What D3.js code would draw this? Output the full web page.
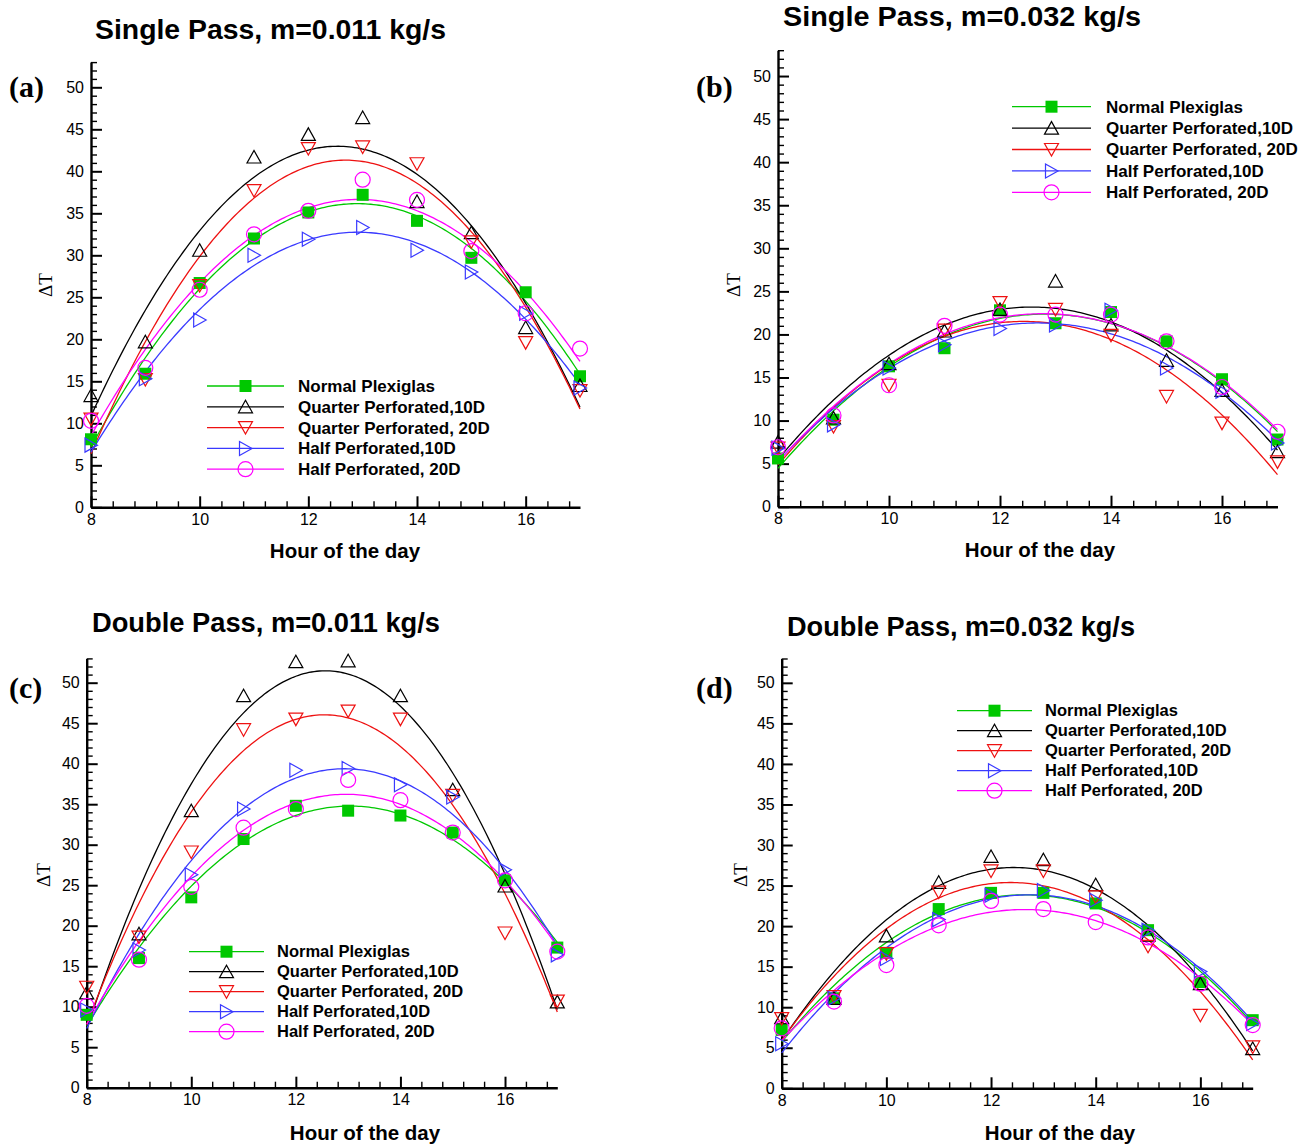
<!DOCTYPE html>
<html>
<head>
<meta charset="utf-8">
<script src="https://cdn.jsdelivr.net/npm/d3@7"></script>
<style>
  html, body { margin: 0; padding: 0; background: #fff; }
  svg { display: block; }
</style>
</head>
<body>
<svg id="chart" width="1314" height="1145"></svg>
<script>
// ---------------- DATA ----------------
const hours = [8, 9, 10, 11, 12, 13, 14, 15, 16, 17];
const seriesNames = ["Normal Plexiglas", "Quarter Perforated,10D", "Quarter Perforated, 20D", "Half Perforated,10D", "Half Perforated, 20D"];
const panelTitles = ["Single Pass, m=0.011 kg/s", "Single Pass, m=0.032 kg/s", "Double Pass, m=0.011 kg/s", "Double Pass, m=0.032 kg/s"];
const panelLetters = ["(a)", "(b)", "(c)", "(d)"];
const yTickValues = [0, 5, 10, 15, 20, 25, 30, 35, 40, 45, 50];
const xTickValues = [8, 10, 12, 14, 16];
const xAxisTitle = "Hour of the day";
const yAxisTitle = "\u0394T";

// (a) Single pass, m = 0.011 kg/s
const aNormal = [8.1, 15.9, 26.7, 32.0, 35.1, 37.2, 34.1, 29.7, 25.6, 15.6];
const aQuarter10 = [13.3, 19.7, 30.6, 41.7, 44.4, 46.4, 36.4, 32.7, 21.4, 14.5];
const aQuarter20 = [10.5, 15.2, 26.4, 37.7, 42.7, 42.9, 40.9, 31.6, 19.6, 13.9];
const aHalf10 = [7.4, 15.3, 22.3, 30.0, 31.9, 33.3, 30.6, 28.0, 23.1, 14.2];
const aHalf20 = [10.3, 16.6, 25.9, 32.5, 35.3, 39.0, 36.6, 30.5, 23.1, 18.9];

// (b) Single pass, m = 0.032 kg/s
const bNormal = [5.6, 10.1, 16.3, 18.4, 22.8, 21.3, 22.6, 19.2, 14.8, 7.8];
const bQuarter10 = [7.5, 10.3, 16.6, 20.4, 22.9, 26.2, 21.1, 17.0, 13.5, 6.4];
const bQuarter20 = [6.8, 9.3, 14.1, 20.5, 23.7, 22.9, 19.9, 12.8, 9.7, 5.2];
const bHalf10 = [6.8, 9.5, 16.1, 18.8, 20.7, 21.1, 22.8, 16.1, 13.4, 7.4];
const bHalf20 = [6.9, 10.6, 14.1, 21.0, 22.3, 22.3, 22.3, 19.2, 13.9, 8.7];

// (c) Double pass, m = 0.011 kg/s
const cNormal = [9.0, 16.0, 23.5, 30.7, 34.8, 34.2, 33.6, 31.5, 25.6, 17.3];
const cQuarter10 = [11.7, 19.0, 34.2, 48.4, 52.6, 52.7, 48.4, 36.8, 24.9, 10.6];
const cQuarter20 = [12.4, 18.6, 29.1, 44.2, 45.5, 46.5, 45.5, 36.1, 19.1, 10.7];
const cHalf10 = [9.6, 17.0, 26.3, 34.4, 39.2, 39.4, 37.4, 35.9, 26.9, 16.4];
const cHalf20 = [10.1, 15.8, 24.8, 32.1, 34.4, 38.0, 35.5, 31.5, 25.6, 16.8];

// (d) Double pass, m = 0.032 kg/s
const dNormal = [7.2, 11.1, 16.7, 22.1, 24.1, 24.1, 22.8, 19.5, 13.1, 8.4];
const dQuarter10 = [8.7, 11.1, 18.8, 25.4, 28.6, 28.2, 25.1, 18.9, 12.9, 4.9];
const dQuarter20 = [8.6, 11.3, 16.6, 24.2, 26.8, 26.8, 23.6, 17.5, 9.0, 5.1];
const dHalf10 = [5.5, 11.1, 16.0, 20.8, 23.8, 24.4, 23.2, 19.5, 14.4, 8.0];
const dHalf20 = [7.4, 10.7, 15.2, 20.1, 23.1, 22.1, 20.5, 18.6, 12.9, 7.8];

const panelSeries = [
  [aNormal, aQuarter10, aQuarter20, aHalf10, aHalf20],
  [bNormal, bQuarter10, bQuarter20, bHalf10, bHalf20],
  [cNormal, cQuarter10, cQuarter20, cHalf10, cHalf20],
  [dNormal, dQuarter10, dQuarter20, dHalf10, dHalf20]
];

// ---------------- STYLE / LAYOUT ----------------
const seriesColors = ["#00c800", "#000000", "#ee1111", "#3a3aff", "#ff00ff"];
const seriesSymbols = ["square", "up", "down", "right", "circle"];

const layouts = [
  { x0: 91, x1: 580, yb: 507.3, yt: 62.1,
    title: [95, 39, 351], letter: [9, 97], xlab: [345, 558], ylab: [45, 285],
    leg: { l0: 207, l1: 284, tx: 298, y0: 386, dy: 20.8, fs: 17 } },
  { x0: 778, x1: 1277.5, yb: 506.7, yt: 50.2,
    title: [783, 26, 358], letter: [696, 97], xlab: [1040, 557], ylab: [733, 285],
    leg: { l0: 1012, l1: 1091, tx: 1106, y0: 106.7, dy: 21.4, fs: 17 } },
  { x0: 86.7, x1: 557.3, yb: 1087.7, yt: 658.4,
    title: [92, 632, 348], letter: [9, 698], xlab: [365, 1140], ylab: [43, 875],
    leg: { l0: 189, l1: 264, tx: 277, y0: 951.7, dy: 20, fs: 16.5 } },
  { x0: 781.7, x1: 1252.7, yb: 1088.3, yt: 658.5,
    title: [787, 636, 348], letter: [696, 698], xlab: [1060, 1140], ylab: [740, 875],
    leg: { l0: 957, l1: 1032, tx: 1045, y0: 710.7, dy: 20, fs: 16.5 } }
];

const svg = d3.select("#chart");

// quadratic least-squares trend curve of a series (as in the original plot)
function quadFit(xs, ys) {
  let S = [0, 0, 0, 0, 0], T = [0, 0, 0];
  const xm = d3.mean(xs);
  xs.forEach((x0, i) => {
    const x = x0 - xm;
    let p = 1;
    for (let k = 0; k < 5; k++) { S[k] += p; if (k < 3) T[k] += p * ys[i]; p *= x; }
  });
  const A = [[S[0], S[1], S[2], T[0]], [S[1], S[2], S[3], T[1]], [S[2], S[3], S[4], T[2]]];
  for (let c = 0; c < 3; c++) {
    for (let r = c + 1; r < 3; r++) {
      const f = A[r][c] / A[c][c];
      for (let k = c; k < 4; k++) A[r][k] -= f * A[c][k];
    }
  }
  const coef = [0, 0, 0];
  for (let r = 2; r >= 0; r--) {
    let s = A[r][3];
    for (let k = r + 1; k < 3; k++) s -= A[r][k] * coef[k];
    coef[r] = s / A[r][r];
  }
  return x => { const t = x - xm; return coef[0] + coef[1] * t + coef[2] * t * t; };
}

function symbolPath(g, type, color, cx, cy) {
  if (type === "square") {
    g.append("rect").attr("x", cx - 6).attr("y", cy - 6).attr("width", 12).attr("height", 12)
      .attr("fill", color);
  } else if (type === "circle") {
    g.append("circle").attr("cx", cx).attr("cy", cy).attr("r", 7.5)
      .attr("fill", "none").attr("stroke", color).attr("stroke-width", 1.2);
  } else {
    let pts;
    if (type === "up") pts = [[cx - 7, cy + 6], [cx + 7, cy + 6], [cx, cy - 6.5]];
    else if (type === "down") pts = [[cx - 7, cy - 6], [cx + 7, cy - 6], [cx, cy + 6.5]];
    else pts = [[cx - 6, cy - 7], [cx - 6, cy + 7], [cx + 6.5, cy]];
    g.append("polygon").attr("points", pts.map(p => p.join(",")).join(" "))
      .attr("fill", "none").attr("stroke", color).attr("stroke-width", 1.2);
  }
}

layouts.forEach((L, pi) => {
  const x = d3.scaleLinear().domain([8, 17]).range([L.x0, L.x1]);
  const y = d3.scaleLinear().domain([0, 53]).range([L.yb, L.yt]);
  const g = svg.append("g");

  // minor ticks
  const minorX = d3.range(8, 17.001, 0.4).filter(v => !xTickValues.some(t => Math.abs(t - v) < 1e-6));
  const minorY = d3.range(0, 53.001, 1).filter(v => v % 5 !== 0);
  g.append("g").attr("transform", `translate(0,${L.yb})`)
    .call(d3.axisBottom(x).tickValues(minorX).tickSize(-6).tickFormat(""))
    .call(a => a.select(".domain").remove())
    .selectAll("line").attr("stroke-width", 1.4);
  g.append("g").attr("transform", `translate(${L.x0},0)`)
    .call(d3.axisLeft(y).tickValues(minorY).tickSize(-6).tickFormat(""))
    .call(a => a.select(".domain").remove())
    .selectAll("line").attr("stroke-width", 1.4);

  // major axes
  const xa = g.append("g").attr("transform", `translate(0,${L.yb})`)
    .call(d3.axisBottom(x).tickValues(xTickValues).tickSize(-11).tickPadding(6).tickSizeOuter(0).tickFormat(d3.format("d")));
  xa.select(".domain").attr("stroke-width", 2.4);
  xa.selectAll("line").attr("stroke-width", 2);
  xa.selectAll("text").attr("font-family", "Liberation Sans, Arial, sans-serif").attr("font-size", 16).attr("fill", "#000");

  const ya = g.append("g").attr("transform", `translate(${L.x0},0)`)
    .call(d3.axisLeft(y).tickValues(yTickValues).tickSize(-11).tickPadding(7).tickSizeOuter(0).tickFormat(d3.format("d")));
  ya.select(".domain").attr("stroke-width", 2.4);
  ya.selectAll("line").attr("stroke-width", 2);
  ya.selectAll("text").attr("font-family", "Liberation Sans, Arial, sans-serif").attr("font-size", 16).attr("fill", "#000");

  // trend curves and markers
  const series = panelSeries[pi];
  series.forEach((vals, si) => {
    const f = quadFit(hours, vals);
    const xs = d3.range(8, 17.0001, 0.05);
    g.append("path")
      .datum(xs)
      .attr("fill", "none")
      .attr("stroke", seriesColors[si])
      .attr("stroke-width", 1.3)
      .attr("d", d3.line().x(d => x(d)).y(d => y(f(d))));
  });
  series.forEach((vals, si) => {
    const mg = g.append("g");
    vals.forEach((v, i) => symbolPath(mg, seriesSymbols[si], seriesColors[si], x(hours[i]), y(v)));
  });

  // legend
  const lg = g.append("g");
  seriesNames.forEach((name, si) => {
    const yy = L.leg.y0 + si * L.leg.dy;
    lg.append("line").attr("x1", L.leg.l0).attr("x2", L.leg.l1).attr("y1", yy).attr("y2", yy)
      .attr("stroke", seriesColors[si]).attr("stroke-width", 1.3);
    symbolPath(lg, seriesSymbols[si], seriesColors[si], (L.leg.l0 + L.leg.l1) / 2, yy);
    lg.append("text").attr("x", L.leg.tx).attr("y", yy).attr("dy", "0.35em")
      .attr("font-family", "Liberation Sans, Arial, sans-serif").attr("font-weight", "bold")
      .attr("font-size", L.leg.fs).text(name);
  });

  // titles
  g.append("text").attr("x", L.title[0]).attr("y", L.title[1])
    .attr("font-family", "Liberation Sans, Arial, sans-serif").attr("font-weight", "bold")
    .attr("font-size", 27).attr("textLength", L.title[2]).attr("lengthAdjust", "spacingAndGlyphs")
    .text(panelTitles[pi]);
  g.append("text").attr("x", L.letter[0]).attr("y", L.letter[1])
    .attr("font-family", "Liberation Serif, Times New Roman, serif").attr("font-weight", "bold")
    .attr("font-size", 30).text(panelLetters[pi]);
  g.append("text").attr("x", L.xlab[0]).attr("y", L.xlab[1]).attr("text-anchor", "middle")
    .attr("font-family", "Liberation Sans, Arial, sans-serif").attr("font-weight", "bold")
    .attr("font-size", 20.5).text(xAxisTitle);
  g.append("text").attr("transform", `translate(${L.ylab[0]},${L.ylab[1]}) rotate(-90)`)
    .attr("text-anchor", "middle").attr("dy", "0.35em")
    .attr("font-family", "Liberation Serif, Times New Roman, serif")
    .attr("font-size", 19).text(yAxisTitle);
});
</script>
</body>
</html>
